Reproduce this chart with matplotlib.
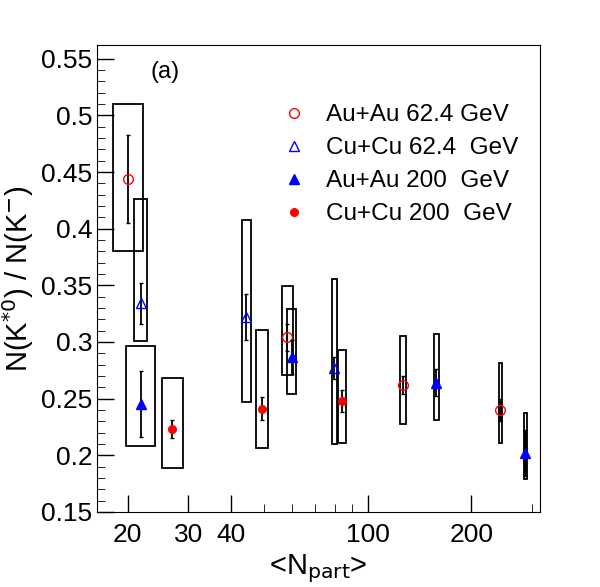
import numpy as np
import matplotlib.pyplot as plt
from matplotlib.patches import Rectangle
from matplotlib.ticker import FixedLocator, NullFormatter

plt.rcParams['font.family'] = ['Liberation Sans', 'DejaVu Sans']

# Au+Au 62.4 GeV (open red circles)
aa62_x = [20.0, 58.2, 126.7, 243.0]
aa62_y = [0.444, 0.304, 0.262, 0.240]
aa62_stat = [0.039, 0.012, 0.008, 0.010]
aa62_syslo = [0.380, 0.271, 0.228, 0.211]
aa62_syshi = [0.510, 0.349, 0.305, 0.281]
aa62_hw = [0.044, 0.016, 0.009, 0.004]

# Cu+Cu 62.4 GeV (open blue triangles)
cc62_x = [21.8, 44.2, 79.8]
cc62_y = [0.334, 0.322, 0.277]
cc62_stat = [0.018, 0.020, 0.010]
cc62_syslo = [0.301, 0.247, 0.210]
cc62_syshi = [0.426, 0.408, 0.356]
cc62_hw = [0.020, 0.013, 0.007]

# Au+Au 200 GeV (filled blue triangles)
aa200_x = [21.8, 60.1, 158.0, 287.0]
aa200_y = [0.245, 0.287, 0.264, 0.202]
aa200_stat = [0.029, 0.015, 0.012, 0.020]
aa200_syslo = [0.208, 0.254, 0.231, 0.179]
aa200_syshi = [0.296, 0.329, 0.307, 0.237]
aa200_hw = [0.042, 0.013, 0.007, 0.004]

# Cu+Cu 200 GeV (filled red circles)
cc200_x = [27.0, 49.1, 84.2]
cc200_y = [0.223, 0.241, 0.248]
cc200_stat = [0.008, 0.010, 0.010]
cc200_syslo = [0.189, 0.206, 0.211]
cc200_syshi = [0.268, 0.311, 0.293]
cc200_hw = [0.030, 0.017, 0.012]

fig = plt.figure(figsize=(6.0, 5.87), dpi=100)
ax = fig.add_axes([0.162, 0.128, 0.738, 0.795])
ax.set_xscale('log')
ax.set_xlim(16.3, 317)
ax.set_ylim(0.15, 0.562)


def draw(xs, ys, st, lo, hi, hw, marker, color, mfc, ms, label):
    for x, y, s, l, h, w in zip(xs, ys, st, lo, hi, hw):
        x0 = x / 10 ** w
        x1 = x * 10 ** w
        ax.add_patch(Rectangle((x0, l), x1 - x0, h - l, fill=False, ec='black', lw=1.3))
        lw = 1.3 if w > 0.006 else 2.5
        ax.errorbar(x, y, yerr=s, fmt='none', ecolor='black', elinewidth=lw, capsize=1.5)
    ax.plot(xs, ys, ls='none', marker=marker, color=color, mfc=mfc, ms=ms, label=label)


draw(aa62_x, aa62_y, aa62_stat, aa62_syslo, aa62_syshi, aa62_hw, 'o', 'red', 'none', 7, 'Au+Au 62.4 GeV')
draw(cc62_x, cc62_y, cc62_stat, cc62_syslo, cc62_syshi, cc62_hw, '^', 'blue', 'none', 7, 'Cu+Cu 62.4  GeV')
draw(aa200_x, aa200_y, aa200_stat, aa200_syslo, aa200_syshi, aa200_hw, '^', 'blue', 'blue', 7, 'Au+Au 200  GeV')
draw(cc200_x, cc200_y, cc200_stat, cc200_syslo, cc200_syshi, cc200_hw, 'o', 'red', 'red', 5.5, 'Cu+Cu 200  GeV')

ax.xaxis.set_major_locator(FixedLocator([20, 30, 40, 100, 200]))
ax.xaxis.set_major_formatter(plt.FixedFormatter(['20', '30', '40', '100', '200']))
ax.xaxis.set_minor_locator(FixedLocator([50, 60, 70, 80, 90, 300]))
ax.xaxis.set_minor_formatter(NullFormatter())
ax.set_yticks(np.arange(0.15, 0.551, 0.05))
ax.set_yticklabels(['0.15', '0.2', '0.25', '0.3', '0.35', '0.4', '0.45', '0.5', '0.55'])
ax.yaxis.set_minor_locator(FixedLocator(np.arange(0.15, 0.56, 0.01)))
ax.tick_params(direction='in', labelsize=19, length=12, width=1, top=False, right=False)
ax.tick_params(which='minor', direction='in', length=6)
ax.tick_params(axis='x', pad=8)

ax.set_xlabel(r'<N$_{\rm part}$>', fontsize=21)
ax.set_ylabel(r'N(K$^{*0}$) / N(K$^{-}$)', fontsize=21)
ax.text(0.12, 0.93, '(a)', transform=ax.transAxes, fontsize=17)
ax.legend(loc='upper right', fontsize=17.5, frameon=False, handletextpad=0.3,
          bbox_to_anchor=(1.0, 0.92), labelspacing=0.45)

fig.savefig('out.png')
